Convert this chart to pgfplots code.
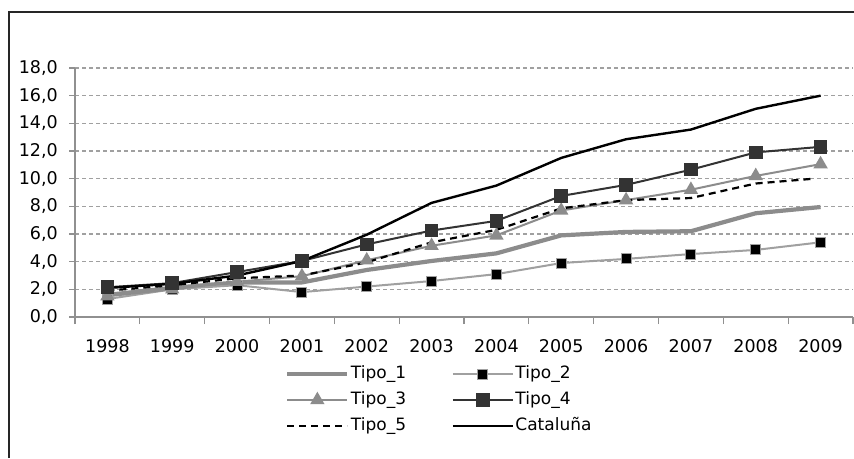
\documentclass[border=0pt]{standalone}
\usepackage{fontspec}
\setmainfont{DejaVu Sans}
\usepackage{pgfplots}
\pgfplotsset{compat=1.18}
\definecolor{axgray}{HTML}{909090}
\definecolor{gridgray}{HTML}{A0A0A0}
\definecolor{t1}{HTML}{8C8C8C}
\definecolor{t2}{HTML}{A0A0A0}
\definecolor{t3}{HTML}{8C8C8C}
\definecolor{t4}{HTML}{333333}
\begin{document}
\begin{tikzpicture}[x=1pt,y=1pt]
\useasboundingbox (0,0) rectangle (854,458);
\fill[white] (0,0) rectangle (854,458);
\draw[line width=1.5pt, black!85] (9,0) -- (9,446) -- (854,446);
\begin{axis}[
  at={(75pt,141pt)}, anchor=south west,
  scale only axis, width=778pt, height=249pt,
  xmin=-0.5, xmax=11.5, ymin=0, ymax=18,
  axis lines=left, axis line style={draw=axgray, line width=1.2pt, -},
  xtick={0,...,11},
  xticklabels={1998,1999,2000,2001,2002,2003,2004,2005,2006,2007,2008,2009},
  major x tick style={draw=none},
  minor xtick={-0.5,0.5,...,11.5},
  minor x tick style={draw=axgray, line width=1.2pt},
  minor tick length=7pt,
  ytick={0,2,...,18},
  y tick style={draw=axgray, line width=1.2pt},
  major tick length=6pt,
  tick align=outside,
  ymajorgrids,
  major y grid style={draw=gridgray, line width=1.2pt, dash pattern=on 4pt off 3pt},
  /pgf/number format/.cd, fixed, fixed zerofill, precision=1, use comma, assume math mode=true,
  /pgfplots/.cd,
  ticklabel style={font=\fontsize{17.5}{20}\selectfont, text=black},
  xticklabel style={inner sep=0pt, anchor=north, yshift=-16pt},
  yticklabel style={inner sep=0pt, anchor=east, xshift=-11pt},
  legend columns=2,
  legend cell align=left,
  legend style={at={(0.27,-0.176)}, anchor=north west, draw=none, fill=none, inner sep=0pt,
    font=\fontsize{17}{19}\selectfont,
    nodes={inner xsep=1.5pt, inner ysep=4pt, text height=13.5pt, text depth=4.5pt},
    /tikz/column 2/.style={column sep=44pt}},
  legend image code/.code={\draw[mark repeat=2,mark phase=2,#1] plot coordinates {(0pt,0pt) (30pt,0pt) (60pt,0pt)};},
]
\addplot[t1, line width=4.2pt, no markers] coordinates {
(0,1.6) (1,2.1) (2,2.5) (3,2.5) (4,3.4) (5,4.05) (6,4.6) (7,5.9) (8,6.15) (9,6.2) (10,7.5) (11,7.95)};
\addlegendentry{Tipo\_1}
\addplot[t2, line width=2pt, mark=square*, mark size=5pt, mark options={fill=black, draw=t2, line width=1pt}] coordinates {
(0,1.3) (1,2.0) (2,2.3) (3,1.8) (4,2.2) (5,2.6) (6,3.1) (7,3.9) (8,4.2) (9,4.55) (10,4.85) (11,5.4)};
\addlegendentry{Tipo\_2}
\addplot[t3, line width=2pt, mark=triangle*, mark size=6.3pt, mark options={fill=t3, draw=t3}] coordinates {
(0,1.5) (1,2.0) (2,2.55) (3,2.95) (4,4.1) (5,5.15) (6,5.9) (7,7.7) (8,8.45) (9,9.2) (10,10.2) (11,11.05)};
\addlegendentry{Tipo\_3}
\addplot[t4, line width=2pt, mark=square*, mark size=5.8pt, mark options={fill=t4, draw=t4}] coordinates {
(0,2.15) (1,2.45) (2,3.25) (3,4.05) (4,5.25) (5,6.25) (6,6.95) (7,8.75) (8,9.55) (9,10.65) (10,11.9) (11,12.3)};
\addlegendentry{Tipo\_4}
\addplot[black, line width=2.2pt, dash pattern=on 7pt off 5pt, no markers] coordinates {
(0,1.9) (1,2.3) (2,2.8) (3,3.0) (4,3.95) (5,5.4) (6,6.3) (7,7.85) (8,8.45) (9,8.6) (10,9.65) (10.9,10.0)};
\addlegendentry{Tipo\_5}
\addplot[black, line width=2.4pt, no markers] coordinates {
(0,2.1) (1,2.4) (2,3.0) (3,4.05) (4,5.95) (5,8.25) (6,9.5) (7,11.5) (8,12.85) (9,13.55) (10,15.05) (11,16.0)};
\addlegendentry{Cataluña}
\end{axis}
\end{tikzpicture}
\end{document}
